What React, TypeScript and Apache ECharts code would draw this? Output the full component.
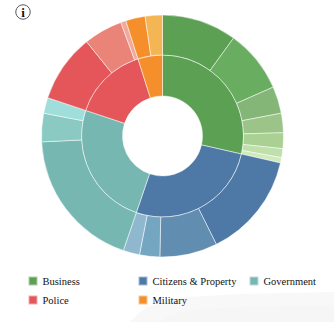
import React, { useEffect, useRef } from "react";
import * as echarts from "echarts";

const categories = ["Business", "Citizens & Property", "Government", "Police", "Military"];
const groupColors = ["#5ba053", "#4e79a7", "#76b7b2", "#e45659", "#f48f2c"];

// Share of the total per sub-sector, grouped by top-level category.
const businessValues = [10.0, 8.4, 3.6, 2.6, 2.1, 1.2, 0.7];
const citizensValues = [14.1, 7.7, 2.7, 2.2];
const governmentValues = [19.0, 3.8, 2.1];
const policeValues = [9.1, 5.2, 0.7];
const militaryValues = [2.6, 2.3];
const groups = [businessValues, citizensValues, governmentValues, policeValues, militaryValues];

const shades = [
  ["#5ba053", "#69ad61", "#84b777", "#9cc488", "#aad094", "#bfdfab", "#d0eaba"],
  ["#4e79a7", "#618db1", "#74a5c1", "#8fb8cf"],
  ["#76b7b2", "#8bc9c3", "#a0dedb"],
  ["#e45659", "#ea8378", "#f0a99c"],
  ["#f48f2c", "#f4b655"],
];

const sum = (xs: number[]) => xs.reduce((a, b) => a + b, 0);

const innerData = categories.map((name, i) => ({
  name,
  value: sum(groups[i]),
  itemStyle: { color: groupColors[i] },
}));

const outerData = groups.flatMap((values, i) =>
  values.map((value, j) => ({
    name: `${categories[i]} ${j + 1}`,
    value,
    itemStyle: { color: shades[i][j] },
  })),
);

const legendSlots = [
  { left: 27.5, top: 275.5 },
  { left: 137.5, top: 275.5 },
  { left: 248.5, top: 275.5 },
  { left: 27.5, top: 294.5 },
  { left: 137.5, top: 294.5 },
];

const serif = "'Liberation Serif', serif";

export default function App() {
  const ref = useRef<HTMLDivElement>(null);

  useEffect(() => {
    const chart = echarts.init(ref.current!, undefined, { renderer: "svg" });
    const ring = {
      type: "pie" as const,
      center: [162.5, 136],
      startAngle: 90,
      clockwise: true,
      avoidLabelOverlap: false,
      minShowLabelAngle: 360,
      label: { show: false },
      labelLine: { show: false },
      silent: true,
      itemStyle: { borderColor: "rgba(255,255,255,0.5)", borderWidth: 1 },
    };
    chart.setOption({
      animation: false,
      backgroundColor: "#ffffff",
      legend: categories.map((name, i) => ({
        data: [{ name, icon: "rect" }],
        left: legendSlots[i].left,
        top: legendSlots[i].top,
        padding: 0,
        itemWidth: 9,
        itemHeight: 9,
        selectedMode: false,
        textStyle: { fontFamily: serif, fontSize: 10.5, color: "#111111" },
      })),
      graphic: [
        {
          type: "polygon",
          z: -10,
          silent: true,
          shape: {
            points: [
              [130, 322], [138, 314], [147, 307], [165, 301], [187, 297],
              [240, 294], [334, 292], [334, 322],
            ],
          },
          style: { fill: "#f8f8f8" },
        },
        {
          type: "polygon",
          z: -9,
          silent: true,
          shape: {
            points: [
              [160, 322], [168, 317], [177, 313], [200, 309], [260, 306],
              [334, 305], [334, 322],
            ],
          },
          style: { fill: "#f6f6f6" },
        },
        {
          type: "circle",
          silent: true,
          shape: { cx: 23, cy: 12, r: 7.2 },
          style: { fill: "#ffffff", stroke: "#555555", lineWidth: 1 },
        },
        {
          type: "text",
          silent: true,
          x: 23,
          y: 12.5,
          style: {
            text: "i",
            fill: "#111111",
            font: "bold 13px 'Liberation Serif', serif",
            textAlign: "center",
            textVerticalAlign: "middle",
          },
        },
      ],
      series: [
        { ...ring, name: "Sectors", radius: [40, 81], data: innerData },
        { ...ring, name: "Sub-sectors", radius: [81, 121], data: outerData },
      ],
    });
    return () => chart.dispose();
  }, []);

  return (
    <div
      ref={ref}
      style={{ position: "fixed", left: 0, top: 0, width: 334, height: 322 }}
    />
  );
}
